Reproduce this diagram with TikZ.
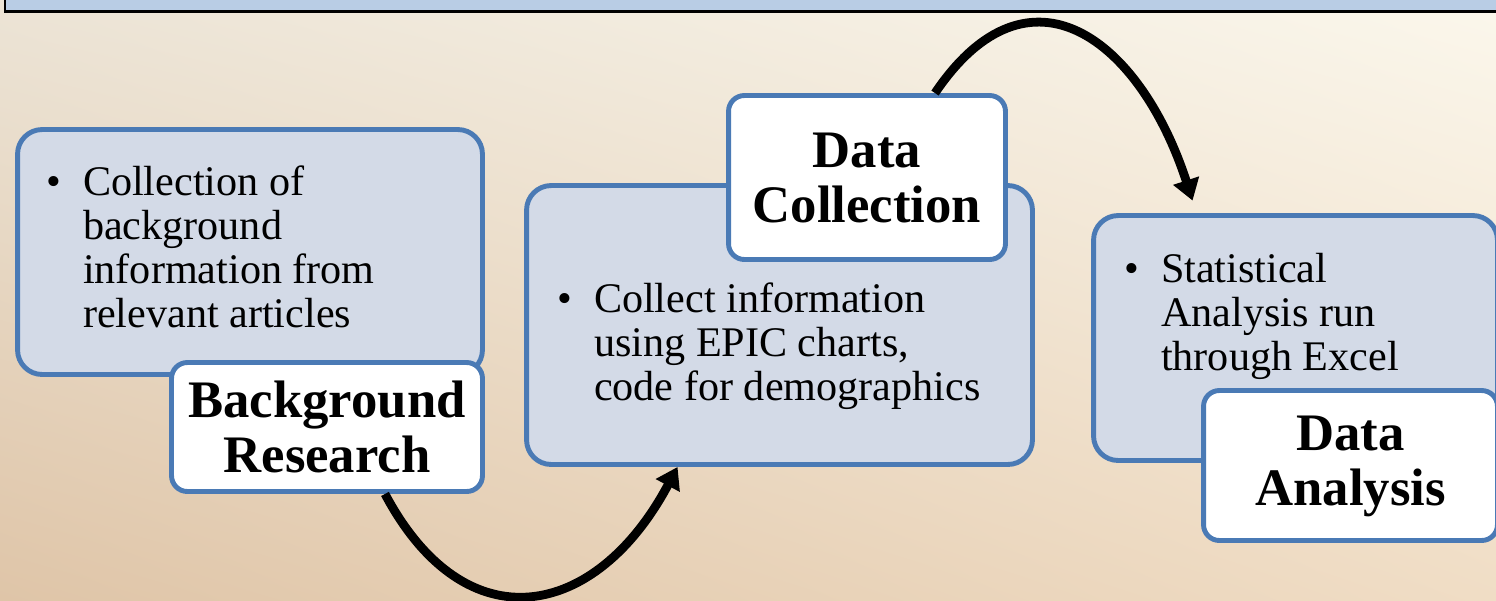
\documentclass[tikz,border=0pt]{standalone}
\usepackage{fontspec}
\setmainfont{Liberation Serif}
\usetikzlibrary{arrows.meta,positioning,calc,shadings}
\definecolor{Banner}{HTML}{B9CDE5}
\definecolor{BoxFill}{HTML}{D3DAE7}
\definecolor{BoxLine}{HTML}{4A7AB5}
\definecolor{SandTL}{HTML}{ECE4D6}
\definecolor{SandTR}{HTML}{FBF7EC}
\definecolor{SandBL}{HTML}{DFC5A8}
\definecolor{SandBR}{HTML}{F0DDC5}
\tikzset{
  infobox/.style={draw=BoxLine,fill=BoxFill,line width=2.8pt,rounded corners=14pt,inner sep=0pt},
  titlebox/.style={draw=BoxLine,fill=white,line width=2.8pt,rounded corners=9pt,align=center,font=\fontsize{30}{31.3}\selectfont\bfseries,inner sep=0pt},
  bullettext/.style={anchor=base west,inner sep=0pt,font=\fontsize{24}{25.2}\selectfont},
  flowarrow/.style={-{Triangle[length=0.42cm,width=0.52cm]},line width=5pt,draw=black}
}
\newcommand{\bulletitem}[1]{\begin{tabular}[t]{@{}l@{\hspace{12.5pt}}l@{}}\textbullet&\begin{tabular}[t]{@{}l@{}}#1\end{tabular}\end{tabular}}

\begin{document}
\begin{tikzpicture}[x=0.02cm,y=-0.02cm]
  \useasboundingbox (0,0) rectangle (1496,600);
  \shade[upper left=SandTL,upper right=SandTR,lower left=SandBL,lower right=SandBR] (0,0) rectangle (1496,600);
  \draw[fill=Banner,line width=1.7pt] (5,-20) rectangle (1520,11);

  % step 1
  \node[infobox,minimum width=9.3cm,minimum height=4.9cm] (bgbox) at (250,252) {};
  \node[bullettext] (bgtext) at (46,195) {\bulletitem{Collection of\\background\\information from\\relevant articles}};
  \node[titlebox,minimum width=6.22cm,minimum height=2.58cm] (bgtitle) at (327,427) {Background\\Research};

  % step 2
  \node[infobox,minimum width=10.12cm,minimum height=5.58cm] (collectbox) at (779.5,325) {};
  \node[bullettext] (collecttext) at (557,312) {\bulletitem{Collect information\\using EPIC charts,\\code for demographics}};
  \node[titlebox,minimum width=5.54cm,minimum height=3.28cm] (dctitle) at (867,177.5) {Data\\Collection};

  % step 3
  \node[infobox,minimum width=8.08cm,minimum height=4.9cm] (analysisbox) at (1295.5,338) {};
  \node[bullettext] (analysistext) at (1124,282) {\bulletitem{Statistical\\Analysis run\\through Excel}};
  \node[titlebox,minimum width=5.88cm,minimum height=3.0cm,text depth=0.2cm] (datitle) at (1350.5,465.5) {Data\\Analysis};

  \draw[flowarrow] ([xshift=1.16cm]bgtitle.south) to[out=-62,in=-118,looseness=1.5] ([xshift=3.07cm]collectbox.south west);
  \draw[flowarrow] ([xshift=1.36cm]dctitle.north) to[out=56,in=108,looseness=1.55] ([xshift=2.03cm,yshift=0.25cm]analysisbox.north west);
\end{tikzpicture}
\end{document}
